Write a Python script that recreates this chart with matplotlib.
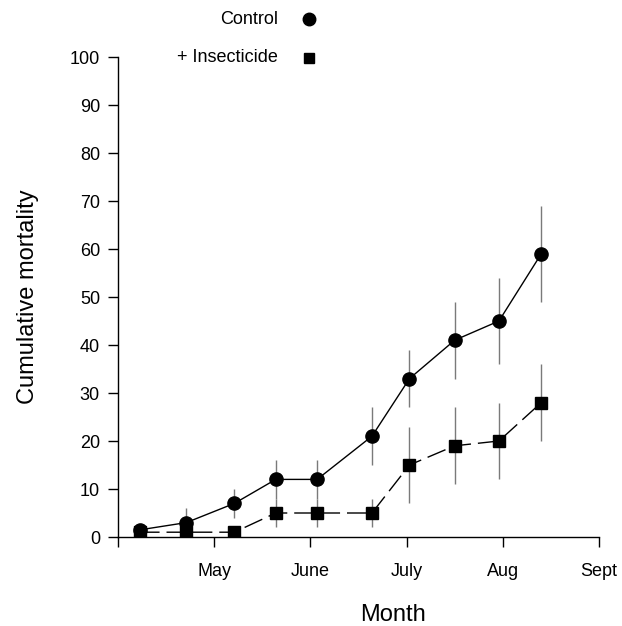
import matplotlib
matplotlib.use("Agg")
import matplotlib.pyplot as plt
from matplotlib.lines import Line2D

plt.rcParams['font.family'] = ['Liberation Sans', 'DejaVu Sans']

# sampling dates, in months from 1 April
months = [0.23, 0.71, 1.21, 1.64, 2.07, 2.64, 3.03, 3.50, 3.96, 4.40]

control = [1.5, 3, 7, 12, 12, 21, 33, 41, 45, 59]
control_err = [0, 3, 3, 4, 4, 6, 6, 8, 9, 10]

insecticide = [1, 1, 1, 5, 5, 5, 15, 19, 20, 28]
insecticide_err = [0, 0, 0, 3, 3, 3, 8, 8, 8, 8]

month_ticks = [0, 1, 2, 3, 4, 5]
month_labels = ['', 'May', 'June', 'July', 'Aug', 'Sept']

fig = plt.figure(figsize=(6.22, 6.26), dpi=100)
ax = fig.add_axes([118 / 622, 1 - 537 / 626, 481 / 622, 480 / 626])

# error bars (grey, no caps) under the markers
ax.errorbar(months, control, yerr=control_err, fmt='none', ecolor='#7a7a7a',
            elinewidth=1.0, capsize=0, zorder=1)
ax.errorbar(months, insecticide, yerr=insecticide_err, fmt='none', ecolor='#7a7a7a',
            elinewidth=1.0, capsize=0, zorder=1)

ax.plot(months, control, color='black', lw=1.0, marker='o', markersize=9.5,
        markerfacecolor='black', zorder=3)
ax.plot(months, insecticide, color='black', lw=1.0, dashes=(14, 5), marker='s',
        markersize=8, markerfacecolor='black', zorder=3)

ax.set_xlim(0, 5)
ax.set_ylim(0, 100)
ax.set_xticks(month_ticks)
ax.set_xticklabels(month_labels)
ax.set_yticks(range(0, 101, 10))

for side in ['top', 'right']:
    ax.spines[side].set_visible(False)
for side in ['left', 'bottom']:
    ax.spines[side].set_linewidth(1.0)

ax.tick_params(axis='x', direction='out', length=7, width=1, labelsize=13, pad=11.5)
ax.tick_params(axis='y', direction='out', length=7, width=1, labelsize=13, pad=6)

ax.set_xlabel('Month', fontsize=17)
ax.xaxis.set_label_coords(0.572, -0.139)
ax.set_ylabel('Cumulative mortality', fontsize=17)
ax.yaxis.set_label_coords(-0.164, 0.5)

# legend placed above the axes: label then marker
fig.text(278 / 622, 1 - 19 / 626, 'Control', ha='right', va='center', fontsize=13)
fig.text(278 / 622, 1 - 58 / 626, '+ Insecticide', ha='right', va='center', fontsize=13)
fig.add_artist(Line2D([309 / 622], [1 - 19 / 626], marker='o', markersize=9,
                      color='black', linestyle='none', transform=fig.transFigure))
fig.add_artist(Line2D([309 / 622], [1 - 58 / 626], marker='s', markersize=7.5,
                      color='black', linestyle='none', transform=fig.transFigure))

fig.savefig('out.png', dpi=100)
